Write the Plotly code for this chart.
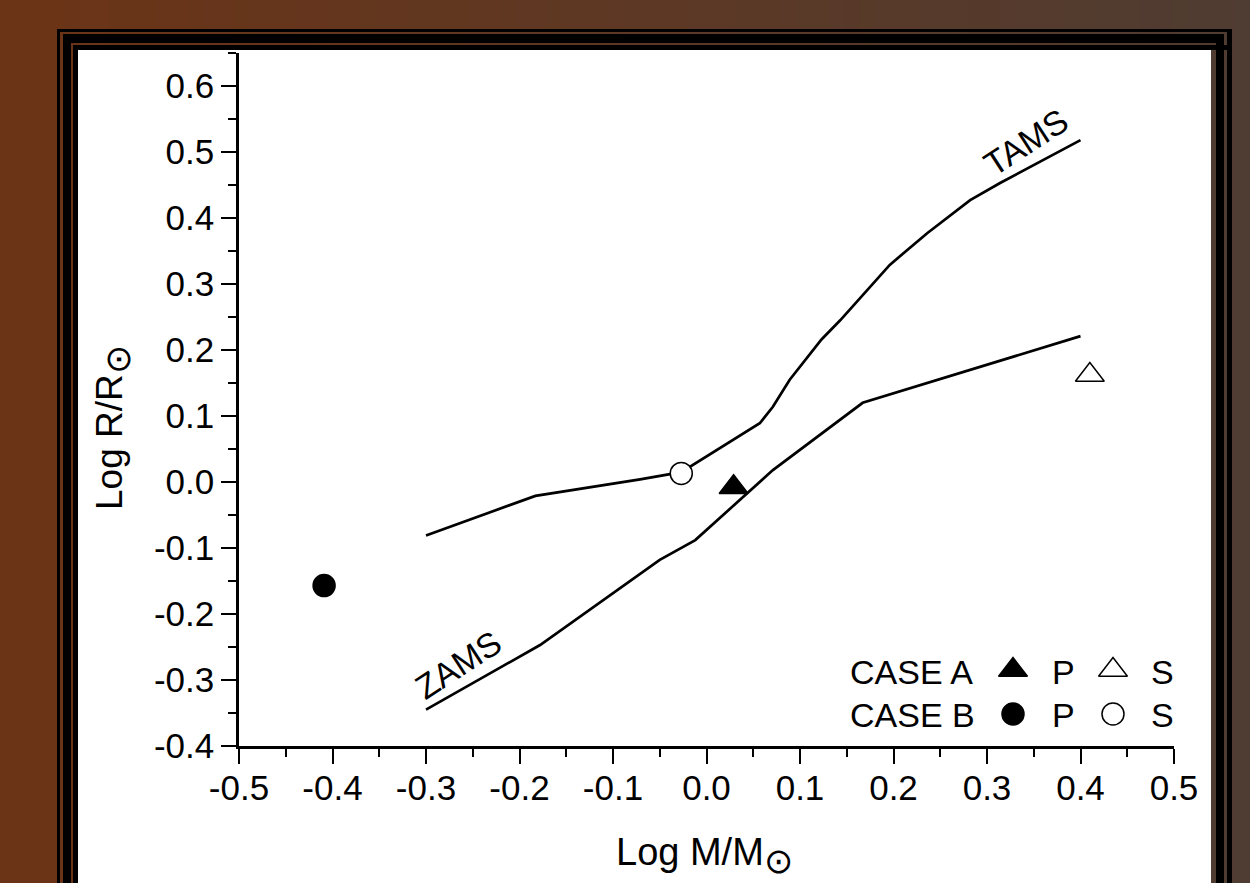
import plotly.graph_objects as go

# ---------------- data ----------------
tams_x = [-0.300, -0.183, -0.071, -0.027, 0.057, 0.071, 0.089, 0.123, 0.143, 0.182, 0.196, 0.236, 0.282, 0.314, 0.400]
tams_y = [-0.081, -0.021, 0.004, 0.015, 0.089, 0.114, 0.155, 0.216, 0.245, 0.306, 0.329, 0.377, 0.427, 0.453, 0.518]

zams_x = [-0.300, -0.178, -0.050, -0.012, 0.071, 0.167, 0.400]
zams_y = [-0.345, -0.247, -0.118, -0.088, 0.018, 0.120, 0.221]

caseA_P = (0.029, -0.008)
caseA_S = (0.410, 0.162)
caseB_P = (-0.409, -0.157)
caseB_S = (-0.027, 0.013)

x_ticks = [-0.5, -0.4, -0.3, -0.2, -0.1, 0.0, 0.1, 0.2, 0.3, 0.4, 0.5]
x_ticktext = ["-0.5", "-0.4", "-0.3", "-0.2", "-0.1", "0.0", "0.1", "0.2", "0.3", "0.4", "0.5"]
x_minor = [-0.45, -0.35, -0.25, -0.15, -0.05, 0.05, 0.15, 0.25, 0.35, 0.45]
y_ticks = [-0.4, -0.3, -0.2, -0.1, 0.0, 0.1, 0.2, 0.3, 0.4, 0.5, 0.6]
y_ticktext = ["-0.4", "-0.3", "-0.2", "-0.1", "0.0", "0.1", "0.2", "0.3", "0.4", "0.5", "0.6"]
y_minor = [-0.35, -0.25, -0.15, -0.05, 0.05, 0.15, 0.25, 0.35, 0.45, 0.55, 0.65]

# ---------------- layout helpers (pixel -> paper) ----------------
W, H = 1250, 883
L, R, T, B = 239, 76, 53, 137
PW, PH = W - L - R, H - T - B


def PX(px):
    return (px - L) / PW


def PY(py):
    return (H - B - py) / PH


FONT = "Liberation Sans, Arial, sans-serif"
FS = 35
SUN = '<sub><span style="font-size:35px">⊙</span></sub>'

fig = go.Figure()

line_style = dict(color="black", width=2.7)
fig.add_trace(go.Scatter(x=tams_x, y=tams_y, mode="lines", line=line_style, showlegend=False))
fig.add_trace(go.Scatter(x=zams_x, y=zams_y, mode="lines", line=line_style, showlegend=False))

tri = dict(symbol="triangle-up", size=25, line=dict(color="black", width=1.5))
circ = dict(symbol="circle", size=22, line=dict(color="black", width=1.5))

fig.add_trace(go.Scatter(x=[caseA_P[0]], y=[caseA_P[1]], mode="markers",
                         marker=dict(color="black", **tri), showlegend=False))
fig.add_trace(go.Scatter(x=[caseA_S[0]], y=[caseA_S[1]], mode="markers",
                         marker=dict(color="white", **tri), showlegend=False))
fig.add_trace(go.Scatter(x=[caseB_P[0]], y=[caseB_P[1]], mode="markers",
                         marker=dict(color="black", **circ), showlegend=False))
fig.add_trace(go.Scatter(x=[caseB_S[0]], y=[caseB_S[1]], mode="markers",
                         marker=dict(color="white", **circ), showlegend=False))

# legend keys on an overlay axis in paper-like units
lx_fill, lx_open = PX(1013), PX(1113)
ly_a, ly_b = PY(670), PY(714)
fig.add_trace(go.Scatter(x=[lx_fill], y=[ly_a], xaxis="x2", yaxis="y2", mode="markers",
                         marker=dict(color="black", **tri), showlegend=False))
fig.add_trace(go.Scatter(x=[lx_open], y=[ly_a], xaxis="x2", yaxis="y2", mode="markers",
                         marker=dict(color="white", **tri), showlegend=False))
fig.add_trace(go.Scatter(x=[lx_fill], y=[ly_b], xaxis="x2", yaxis="y2", mode="markers",
                         marker=dict(color="black", **circ), showlegend=False))
fig.add_trace(go.Scatter(x=[lx_open], y=[ly_b], xaxis="x2", yaxis="y2", mode="markers",
                         marker=dict(color="white", **circ), showlegend=False))

# ---------------- background decoration ----------------
shapes = []
N = 80
c0 = (108, 52, 22)
c1 = (79, 60, 50)
for i in range(N):
    t = (i + 0.5) / N
    c = tuple(int(round(c0[k] + (c1[k] - c0[k]) * t)) for k in range(3))
    x0 = i * W / N
    x1 = (i + 1) * W / N + 1
    shapes.append(dict(type="rect", xref="paper", yref="paper", layer="below",
                       x0=PX(x0), x1=PX(x1), y0=PY(H + 5), y1=PY(-5),
                       fillcolor="rgb(%d,%d,%d)" % c, line=dict(width=0)))

frame_rects = [
    (57, 60, 29, H + 5), (63, 71, 34, H + 5), (73, 78, 45, H + 5),
    (57, 1232, 29, 32), (63, 1224, 34, 43), (73, 1232, 45, 50),
    (1216, 1224, 34, H + 5), (1227, 1232, 29, H + 5),
]
for (x0, x1, y0, y1) in frame_rects:
    shapes.append(dict(type="rect", xref="paper", yref="paper", layer="below",
                       x0=PX(x0), x1=PX(x1), y0=PY(y1), y1=PY(y0),
                       fillcolor="black", line=dict(width=0)))
shapes.append(dict(type="rect", xref="paper", yref="paper", layer="below",
                   x0=PX(78), x1=PX(1211), y0=PY(H + 5), y1=PY(50),
                   fillcolor="white", line=dict(width=0)))

# ---------------- annotations ----------------
ann = []
ann.append(dict(text="TAMS", x=0.342, y=0.515, xref="x", yref="y", showarrow=False,
                textangle=-33, font=dict(family=FONT, size=FS - 1, color="black")))
ann.append(dict(text="ZAMS", x=-0.266, y=-0.277, xref="x", yref="y", showarrow=False,
                textangle=-33, font=dict(family=FONT, size=FS - 1, color="black")))

legend_text = [
    ("CASE A", 848, 672, "left"), ("P", 1063, 672, "center"), ("S", 1162, 672, "center"),
    ("CASE B", 848, 715, "left"), ("P", 1063, 715, "center"), ("S", 1162, 715, "center"),
]
for (txt, x, y, anc) in legend_text:
    ann.append(dict(text=txt, x=PX(x), y=PY(y), xref="paper", yref="paper", showarrow=False,
                    xanchor=anc, yanchor="middle", font=dict(family=FONT, size=FS - 1, color="black")))

ann.append(dict(text="Log M/M" + SUN, x=PX(704), y=PY(855), xref="paper", yref="paper",
                showarrow=False, xanchor="center", yanchor="middle",
                font=dict(family=FONT, size=38, color="black")))
ann.append(dict(text="Log R/R" + SUN, x=PX(113), y=PY(428), xref="paper", yref="paper",
                showarrow=False, xanchor="center", yanchor="middle", textangle=-90,
                font=dict(family=FONT, size=37, color="black")))

axis_common = dict(showgrid=False, zeroline=False, showline=True, linecolor="black", linewidth=2.5,
                   ticks="outside", ticklen=15, tickwidth=2.2, tickcolor="black",
                   tickfont=dict(family=FONT, size=FS, color="black"), mirror=False)

fig.update_layout(
    width=W, height=H,
    margin=dict(l=L, r=R, t=T, b=B, pad=0),
    paper_bgcolor="rgb(90,56,38)",
    plot_bgcolor="rgba(0,0,0,0)",
    showlegend=False,
    shapes=shapes,
    annotations=ann,
    xaxis=dict(range=[-0.5, 0.5], tickmode="array", tickvals=x_ticks, ticktext=x_ticktext,
               ticklabelstandoff=-6,
               minor=dict(tickvals=x_minor, ticklen=8, tickwidth=2.2, tickcolor="black", ticks="outside"),
               **axis_common),
    yaxis=dict(range=[-0.4, 0.65], tickmode="array", tickvals=y_ticks, ticktext=y_ticktext,
               minor=dict(tickvals=y_minor, ticklen=8, tickwidth=2.2, tickcolor="black", ticks="outside"),
               **axis_common),
    xaxis2=dict(overlaying="x", range=[0, 1], visible=False, fixedrange=True),
    yaxis2=dict(overlaying="y", range=[0, 1], visible=False, fixedrange=True),
)

fig.write_html("out.html", config={"displayModeBar": False},
               post_script="document.body.style.margin='0';document.body.style.overflow='hidden';")
